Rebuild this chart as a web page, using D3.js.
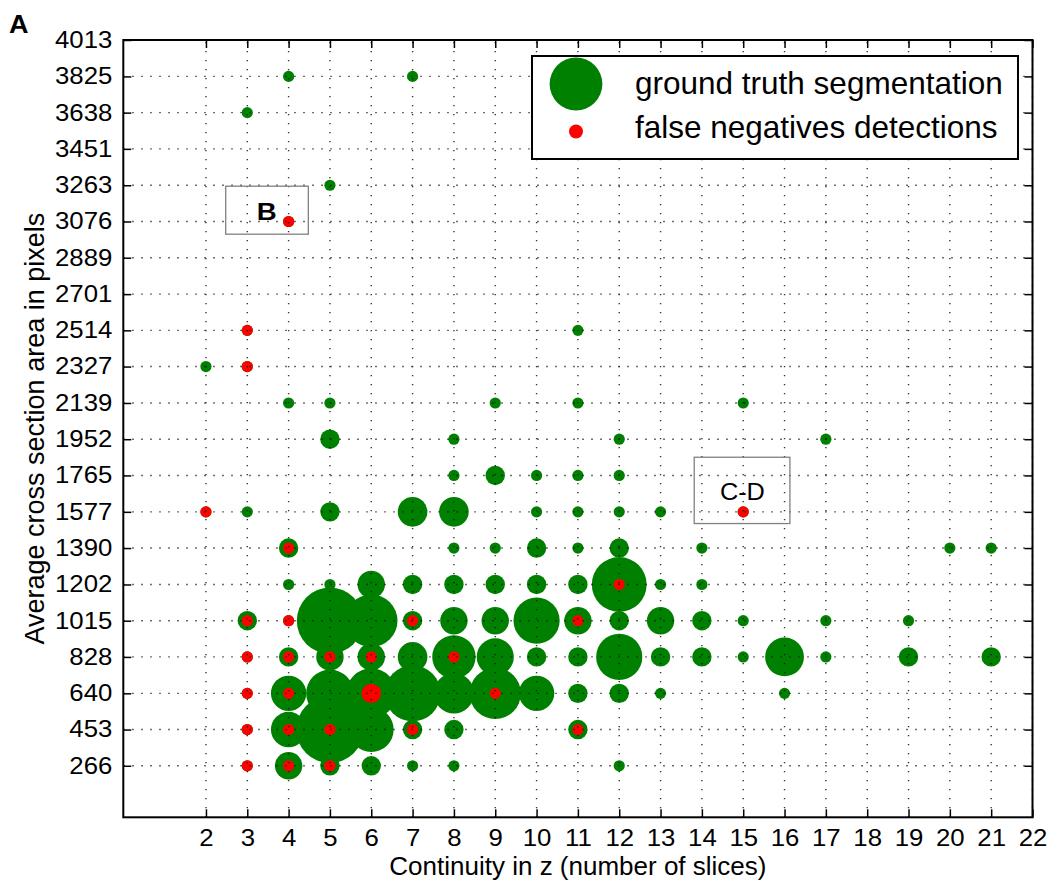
<!DOCTYPE html>
<html><head><meta charset="utf-8">
<script src="https://cdn.jsdelivr.net/npm/d3@7"></script>
<style>
body{margin:0;background:#fff}
svg{display:block}
text{font-family:"Liberation Sans",Arial,Helvetica,sans-serif;fill:#000}
</style>
</head><body>
<svg id="chart" width="1049" height="882"></svg>
<script>
// ---------- data ----------
const xTicks = [2,3,4,5,6,7,8,9,10,11,12,13,14,15,16,17,18,19,20,21,22];
const yTickLabels = ["266","453","640","828","1015","1202","1390","1577","1765","1952","2139","2327","2514","2701","2889","3076","3263","3451","3638","3825","4013"];

// ground truth segmentation (x = continuity in z, y = avg cross-section area, count -> bubble area)
const gtX = [4,7, 3, 5, 4, 3,11, 2,3, 4,5,9,11,15, 5,8,12,17, 8,9,10,11,12,
  2,3,5,7,8,10,11,12,13,15,
  4,8,9,10,11,12,14,20,21,
  4,5,6,7,8,9,10,11,12,13,14,
  3,4,5,6,7,8,9,10,11,12,13,14,15,17,19,
  3,4,5,6,7,8,9,10,11,12,13,14,15,16,17,19,21,
  3,4,5,6,7,8,9,10,11,12,13,16,
  3,4,5,6,7,8,11,
  3,4,5,6,7,8,12];
const gtY = [3825,3825, 3638, 3263, 3076, 2514,2514, 2327,2327, 2139,2139,2139,2139,2139, 1952,1952,1952,1952, 1765,1765,1765,1765,1765,
  1577,1577,1577,1577,1577,1577,1577,1577,1577,1577,
  1390,1390,1390,1390,1390,1390,1390,1390,1390,
  1202,1202,1202,1202,1202,1202,1202,1202,1202,1202,1202,
  1015,1015,1015,1015,1015,1015,1015,1015,1015,1015,1015,1015,1015,1015,1015,
  828,828,828,828,828,828,828,828,828,828,828,828,828,828,828,828,828,
  640,640,640,640,640,640,640,640,640,640,640,640,
  453,453,453,453,453,453,453,
  266,266,266,266,266,266,266];
const gtCount = [1,1, 1, 1, 1, 1,1, 1,1, 1,1,1,1,1, 3,1,1,1, 1,3,1,1,1,
  1,1,3,7,7,1,1,1,1,1,
  3,1,1,3,1,3,1,1,1,
  1,1,6,3,3,3,3,3,24,1,1,
  3,1,35,22,3,6,6,17,6,3,6,3,1,1,1,
  1,3,6,6,7,15,11,3,3,17,3,3,1,12,1,3,3,
  1,10,18,20,25,13,21,10,3,3,1,1,
  1,10,36,16,3,3,3,
  1,6,3,3,1,1,1];

// false negative detections
const fnX = [4, 3, 3, 2,15, 4, 12, 3,4,7,11, 3,4,5,6,8, 3,4,6,9, 3,4,5,7,11, 3,4,5];
const fnY = [3076, 2514, 2327, 1577,1577, 1390, 1202, 1015,1015,1015,1015, 828,828,828,828,828, 640,640,640,640, 453,453,453,453,453, 266,266,266];
const fnCount = [1, 1, 1, 1,1, 1, 1, 1,1,1,1, 1,1,1,1,1, 1,1,3,1, 1,1,1,1,1, 1,1,1];

const seriesNames = ["ground truth segmentation","false negatives detections"];
const seriesColors = ["#008000","#ff0000"];
const annoText = ["B","C-D"];
const annoX = [4,15];
const annoY = [3076,1577];

// ---------- layout ----------
const W = 1049, H = 882;
const M = {left:123.3, right:1049-1032.5, top:40, bottom:882-817.3};
const svg = d3.select("#chart");
const x = d3.scaleLinear().domain([0,22]).range([M.left, W-M.right]);
const y = d3.scaleLinear().domain([0,4013]).range([H-M.bottom, M.top]);
const r = d3.scaleSqrt().domain([0,1]).range([0,5.6]);
const yTicks = yTickLabels.map(Number);

function stretch(sel, f){
  sel.each(function(){
    const L = this.getComputedTextLength();
    this.setAttribute("textLength", L*f);
    this.setAttribute("lengthAdjust","spacingAndGlyphs");
  });
}

// bubbles
const gt = gtX.map((d,i)=>({x:d,y:gtY[i],c:gtCount[i]}));
const fn = fnX.map((d,i)=>({x:d,y:fnY[i],c:fnCount[i]}));
svg.append("g").selectAll("circle").data(gt).join("circle")
  .attr("cx",d=>x(d.x)).attr("cy",d=>y(d.y)).attr("r",d=>r(d.c))
  .attr("fill",seriesColors[0]);
svg.append("g").selectAll("circle").data(fn).join("circle")
  .attr("cx",d=>x(d.x)).attr("cy",d=>y(d.y)).attr("r",d=>r(d.c))
  .attr("fill",seriesColors[1]);

// grid (drawn over markers, as in the original)
const grid = svg.append("g").attr("stroke","#111").attr("stroke-width",1.4)
  .attr("stroke-dasharray","1.4,7.6").attr("opacity",0.85);
grid.selectAll("line.v").data(xTicks).join("line").attr("class","v")
  .attr("x1",d=>x(d)).attr("x2",d=>x(d)).attr("y1",y(0)).attr("y2",y(4013));
grid.selectAll("line.h").data(yTicks).join("line").attr("class","h")
  .attr("y1",d=>y(d)).attr("y2",d=>y(d)).attr("x1",x(0)).attr("x2",x(22));

// axes
const gB = svg.append("g").attr("transform",`translate(0,${y(0)})`)
  .call(d3.axisBottom(x).tickValues(xTicks).tickFormat(d3.format("d")).tickSizeInner(-8).tickSizeOuter(0).tickPadding(12));
const gL = svg.append("g").attr("transform",`translate(${x(0)},0)`)
  .call(d3.axisLeft(y).tickValues(yTicks).tickFormat((d,i)=>yTickLabels[i]).tickSizeInner(-8).tickSizeOuter(0).tickPadding(11));
const gT = svg.append("g").attr("transform",`translate(0,${y(4013)})`)
  .call(d3.axisTop(x).tickValues(xTicks).tickFormat("").tickSizeInner(-8).tickSizeOuter(0));
const gR = svg.append("g").attr("transform",`translate(${x(22)},0)`)
  .call(d3.axisRight(y).tickValues(yTicks).tickFormat("").tickSizeInner(-8).tickSizeOuter(0));
[gB,gL,gT,gR].forEach(g=>{
  g.select(".domain").remove();
  g.selectAll(".tick line").attr("stroke","#000").attr("stroke-width",1.5);
  g.selectAll(".tick text").style("font-size","23px").attr("fill","#111");
});
stretch(gB.selectAll(".tick text"),1.12);
stretch(gL.selectAll(".tick text"),1.12);

// frame
svg.append("rect").attr("x",x(0)).attr("y",y(4013))
  .attr("width",x(22)-x(0)).attr("height",y(0)-y(4013))
  .attr("fill","none").attr("stroke","#000").attr("stroke-width",2);

// axis labels
svg.append("text").attr("x",(x(0)+x(22))/2).attr("y",875)
  .attr("text-anchor","middle").style("font-size","26px").attr("fill","#111")
  .text("Continuity in z (number of slices)");
svg.append("text").attr("transform",`translate(44,${(y(0)+y(4013))/2}) rotate(-90)`)
  .attr("text-anchor","middle").style("font-size","27px").attr("fill","#111")
  .text("Average cross section area in pixels");

// panel letter
const pA = svg.append("text").attr("x",9).attr("y",33).style("font-size","25px")
  .style("font-weight","bold").text("A");
stretch(pA,1.08);

// annotation boxes
const boxOff = [{l:-62.9,r:19.7,t:-35.3,b:12.7,tx:-21.9,ty:-1.6,bold:true,fs:24,st:1.15},
                {l:-49,r:46.7,t:-54.6,b:11.7,tx:-0.8,ty:-12.3,bold:false,fs:23,st:1.1}];
annoText.forEach((t,i)=>{
  const px = x(annoX[i]), py = y(annoY[i]), o = boxOff[i];
  svg.append("rect").attr("x",px+o.l).attr("y",py+o.t).attr("width",o.r-o.l).attr("height",o.b-o.t)
    .attr("fill","none").attr("stroke","#808080").attr("stroke-width",1.3);
  const tx = svg.append("text").attr("x",px+o.tx).attr("y",py+o.ty).attr("text-anchor","middle")
    .style("font-size",o.fs+"px").style("font-weight",o.bold?"bold":"normal").text(t);
  stretch(tx,o.st);
});

// legend
const lg = svg.append("g");
lg.append("rect").attr("x",532).attr("y",56).attr("width",486).attr("height",103)
  .attr("fill","#fff").attr("stroke","#000").attr("stroke-width",2);
const legR = [26.4,7];
const legCy = [84,131.5];
const legTy = [94,138];
seriesNames.forEach((n,i)=>{
  lg.append("circle").attr("cx",576).attr("cy",legCy[i]).attr("r",legR[i]).attr("fill",seriesColors[i]);
  lg.append("text").attr("x",635).attr("y",legTy[i]).style("font-size","31.5px").attr("fill","#111").text(n);
});
</script>
</body></html>
